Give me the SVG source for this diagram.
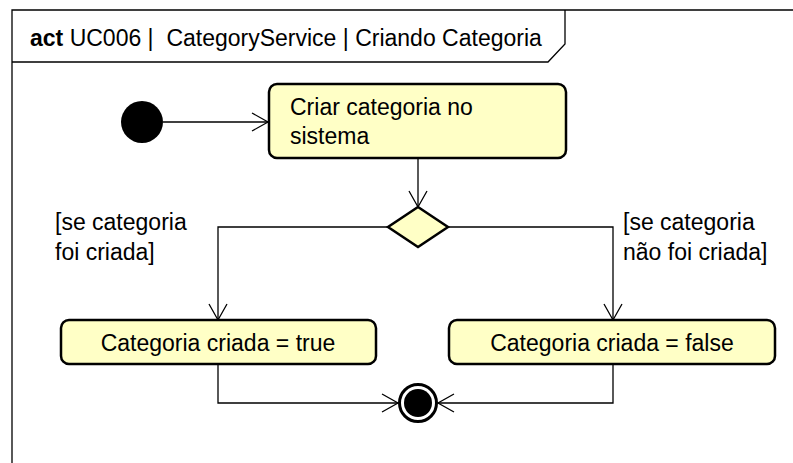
<svg xmlns="http://www.w3.org/2000/svg" width="793" height="463" viewBox="0 0 793 463">
<style>
.t{font-family:"Liberation Sans",Arial,sans-serif;font-size:23px;fill:#000;white-space:pre}
.box{fill:#FFFFC6;stroke:#000;stroke-width:2.5}
.ln{fill:none;stroke:#000;stroke-width:1.3}
</style>
<defs>
<marker id="arr" viewBox="0 0 20 20" refX="18" refY="10" markerWidth="20" markerHeight="20" markerUnits="userSpaceOnUse" orient="auto">
<path d="M2,1 L18,10 L2,19" fill="none" stroke="#000" stroke-width="1.3"/>
</marker>
</defs>
<g id="frame">
<path class="ln" d="M12,463 L12,10 L793,10"/>
<path class="ln" d="M12,62 L548,62 L565,44 L565,10"/>
<text class="t" x="30" y="46" xml:space="preserve"><tspan font-weight="bold">act</tspan> UC006 |  CategoryService | Criando Categoria</text>
</g>
<g id="connectors">
<path class="ln" d="M163,122 L268,122" marker-end="url(#arr)"/>
<path class="ln" d="M418,158 L418,207" marker-end="url(#arr)"/>
<path class="ln" d="M388,227 L218,227 L218,320" marker-end="url(#arr)"/>
<path class="ln" d="M448,227 L613,227 L613,320" marker-end="url(#arr)"/>
<path class="ln" d="M218,364 L218,403 L398,403" marker-end="url(#arr)"/>
<path class="ln" d="M613,364 L613,403 L438,403" marker-end="url(#arr)"/>
</g>
<g id="start"><circle cx="142" cy="122" r="21" fill="#000"/></g>
<g id="criar">
<rect class="box" x="269" y="84" width="297" height="74" rx="8"/>
<text class="t" x="290" y="115">Criar categoria no</text>
<text class="t" x="290" y="144">sistema</text>
</g>
<g id="decision"><path class="box" d="M418,207 L448,227 L418,247 L388,227 Z"/></g>
<g id="guards">
<text class="t" x="55" y="230">[se categoria</text>
<text class="t" x="55" y="260">foi criada]</text>
<text class="t" x="623" y="230">[se categoria</text>
<text class="t" x="623" y="260">não foi criada]</text>
</g>
<g id="trueBox">
<rect class="box" x="61" y="320" width="315" height="44" rx="8"/>
<text class="t" x="218" y="351" text-anchor="middle">Categoria criada = true</text>
</g>
<g id="falseBox">
<rect class="box" x="449" y="320" width="326" height="44" rx="8"/>
<text class="t" x="612" y="351" text-anchor="middle">Categoria criada = false</text>
</g>
<g id="final">
<circle cx="418" cy="403" r="18.5" fill="#fff" stroke="#000" stroke-width="3"/>
<circle cx="418" cy="403" r="14" fill="#000"/>
</g>
</svg>
